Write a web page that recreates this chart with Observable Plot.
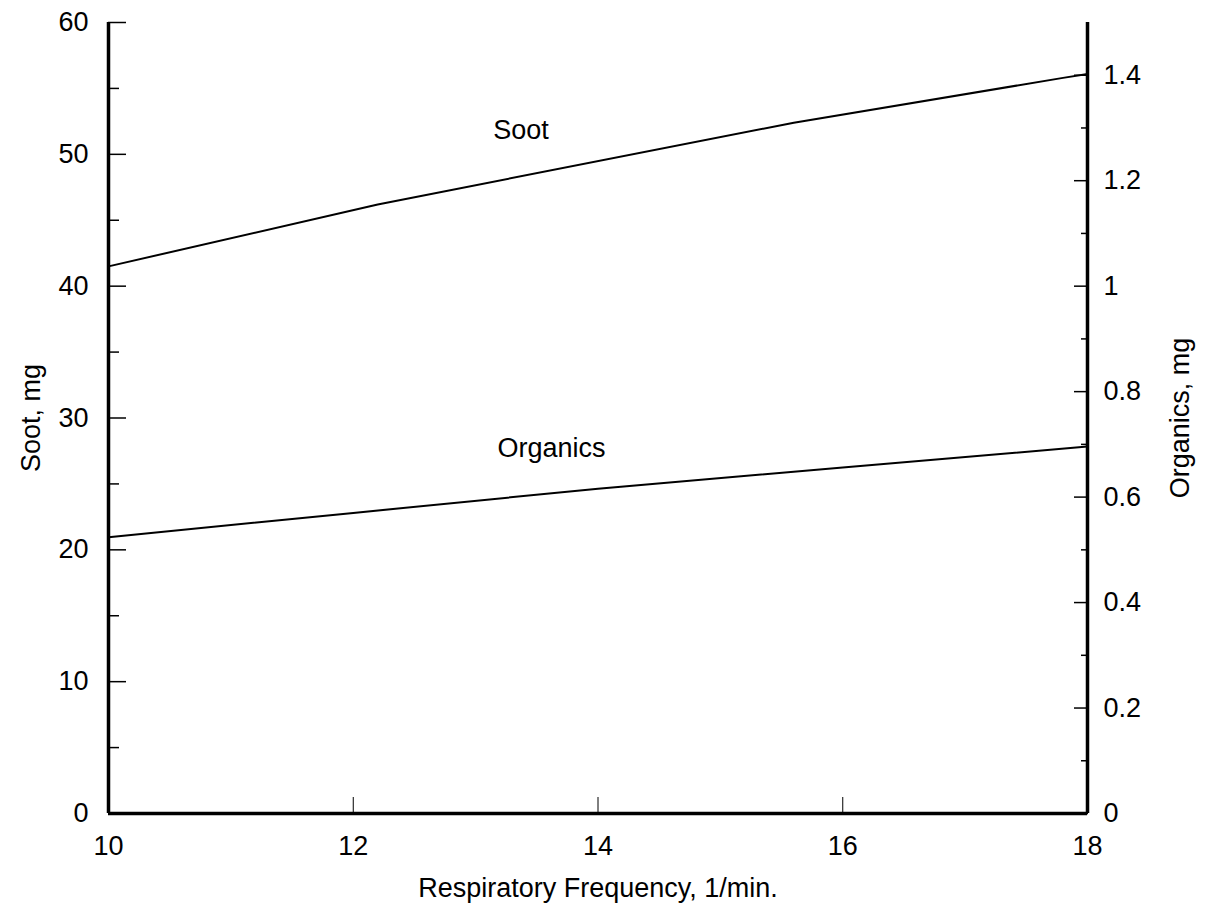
<!DOCTYPE html>
<html><head><meta charset="utf-8">
<script src="https://cdn.jsdelivr.net/npm/d3@7"></script>
<script src="https://cdn.jsdelivr.net/npm/@observablehq/plot@0.6"></script>
<style>body{margin:0;background:#fff} svg{display:block}</style>
</head><body><div id="chart"></div>
<script>
// Data
const sootFreq = [10, 12.2, 15.6, 17.8, 18];
const sootMg = [41.5, 46.2, 52.4, 55.8, 56.1];
const orgFreq = [10, 12, 14, 16, 18];
const orgMg = [0.524, 0.570, 0.616, 0.656, 0.696];
const xTicks = [10, 12, 14, 16, 18];
const sootTicks = [0, 10, 20, 30, 40, 50, 60];
const sootMinor = [5, 15, 25, 35, 45, 55];
const orgTicks = [0, 0.2, 0.4, 0.6, 0.8, 1, 1.2, 1.4];
const orgMinor = [0.1, 0.3, 0.5, 0.7, 0.9, 1.1, 1.3];
const labelNames = ["Soot", "Organics"];
const labelFreq = [13.37, 13.62];
const labelSoot = [51.8, null];
const labelOrg = [null, 0.692];
const orgToSoot = 40; // right axis: 1.5 mg organics spans the same height as 60 mg soot

const soot = sootFreq.map((f, i) => ({f, v: sootMg[i]}));
const org = orgFreq.map((f, i) => ({f, v: orgMg[i] * orgToSoot}));
const labels = labelNames.map((n, i) => ({n, f: labelFreq[i], v: labelSoot[i] ?? labelOrg[i] * orgToSoot}));
const fmt = d3.format("~g");

const FS = 27;
const chart = Plot.plot({
  width: 1206, height: 912,
  marginLeft: 108, marginRight: 119, marginTop: 22, marginBottom: 99,
  style: {fontFamily: "'Liberation Sans', Arial, sans-serif", fontSize: FS + "px", color: "#000", background: "#fff"},
  x: {domain: [10, 18]},
  y: {domain: [0, 60]},
  marks: [
    Plot.axisX(xTicks, {anchor: "bottom", tickSize: -16, tickPadding: 16 + 22, strokeWidth: 1, fontSize: FS,
      tickFormat: d => fmt(d),
      label: "Respiratory Frequency, 1/min.", labelAnchor: "center", labelArrow: "none", labelOffset: 83}),
    Plot.axisY(sootTicks, {anchor: "left", tickSize: -18, tickPadding: 18 + 20, strokeWidth: 1.5, fontSize: FS,
      tickFormat: d => fmt(d),
      label: "Soot, mg", labelAnchor: "center", labelArrow: "none", labelOffset: 88}),
    Plot.axisY(sootMinor, {anchor: "left", tickSize: -11, strokeWidth: 1.5, tickFormat: () => "", label: null}),
    Plot.axisY(orgTicks.map(d => d * orgToSoot), {anchor: "right", tickSize: -14, tickPadding: 14 + 16, strokeWidth: 1.5, fontSize: FS,
      tickFormat: d => fmt(+(d / orgToSoot).toFixed(2)),
      label: "Organics, mg", labelAnchor: "center", labelArrow: "none", labelOffset: 101}),
    Plot.axisY(orgMinor.map(d => d * orgToSoot), {anchor: "right", tickSize: -7, strokeWidth: 1.5, tickFormat: () => "", label: null}),
    Plot.ruleX([10, 18], {strokeWidth: 3.5}),
    Plot.ruleY([0], {strokeWidth: 3.5}),
    Plot.line(soot, {x: "f", y: "v", stroke: "#000", strokeWidth: 2}),
    Plot.line(org, {x: "f", y: "v", stroke: "#000", strokeWidth: 2}),
    Plot.text(labels, {x: "f", y: "v", text: "n", fontSize: FS, fill: "#000"})
  ]
});
document.getElementById("chart").append(chart);
</script>
</body></html>
